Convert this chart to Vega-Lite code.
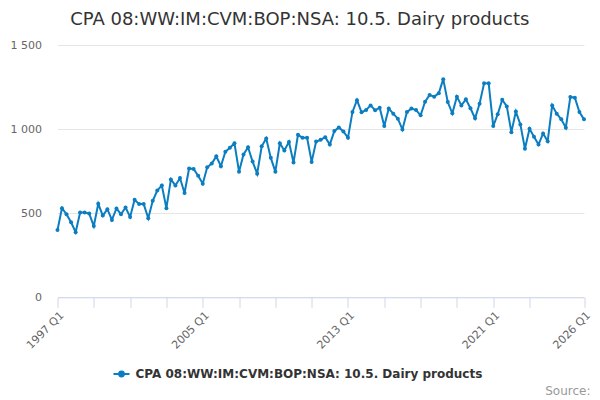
{
  "$schema": "https://vega.github.io/schema/vega-lite/v6.json",
  "description": "CPA 08 imports, dairy products, quarterly",
  "width": 526.5,
  "height": 252.3,
  "autosize": "none",
  "padding": {"left": 57.5, "top": 45, "right": 16, "bottom": 102.7},
  "background": "white",
  "title": {
    "text": "CPA 08:WW:IM:CVM:BOP:NSA: 10.5. Dairy products",
    "fontSize": 18,
    "fontWeight": "normal",
    "color": "#333333",
    "font": "DejaVu Sans",
    "anchor": "middle",
    "dx": -21,
    "offset": 10
  },
  "data": {
    "values": [
      {"date": "1997-01-01", "value": 400},
      {"date": "1997-04-01", "value": 530},
      {"date": "1997-07-01", "value": 494},
      {"date": "1997-10-01", "value": 446},
      {"date": "1998-01-01", "value": 387},
      {"date": "1998-04-01", "value": 504},
      {"date": "1998-07-01", "value": 504},
      {"date": "1998-10-01", "value": 498},
      {"date": "1999-01-01", "value": 424},
      {"date": "1999-04-01", "value": 556},
      {"date": "1999-07-01", "value": 486},
      {"date": "1999-10-01", "value": 524},
      {"date": "2000-01-01", "value": 460},
      {"date": "2000-04-01", "value": 528},
      {"date": "2000-07-01", "value": 494},
      {"date": "2000-10-01", "value": 534},
      {"date": "2001-01-01", "value": 478},
      {"date": "2001-04-01", "value": 580},
      {"date": "2001-07-01", "value": 554},
      {"date": "2001-10-01", "value": 554},
      {"date": "2002-01-01", "value": 470},
      {"date": "2002-04-01", "value": 574},
      {"date": "2002-07-01", "value": 635},
      {"date": "2002-10-01", "value": 665},
      {"date": "2003-01-01", "value": 530},
      {"date": "2003-04-01", "value": 701},
      {"date": "2003-07-01", "value": 665},
      {"date": "2003-10-01", "value": 709},
      {"date": "2004-01-01", "value": 620},
      {"date": "2004-04-01", "value": 766},
      {"date": "2004-07-01", "value": 763},
      {"date": "2004-10-01", "value": 723},
      {"date": "2005-01-01", "value": 675},
      {"date": "2005-04-01", "value": 773},
      {"date": "2005-07-01", "value": 795},
      {"date": "2005-10-01", "value": 838},
      {"date": "2006-01-01", "value": 779},
      {"date": "2006-04-01", "value": 865},
      {"date": "2006-07-01", "value": 889},
      {"date": "2006-10-01", "value": 916},
      {"date": "2007-01-01", "value": 747},
      {"date": "2007-04-01", "value": 849},
      {"date": "2007-07-01", "value": 892},
      {"date": "2007-10-01", "value": 807},
      {"date": "2008-01-01", "value": 735},
      {"date": "2008-04-01", "value": 898},
      {"date": "2008-07-01", "value": 944},
      {"date": "2008-10-01", "value": 829},
      {"date": "2009-01-01", "value": 747},
      {"date": "2009-04-01", "value": 916},
      {"date": "2009-07-01", "value": 873},
      {"date": "2009-10-01", "value": 924},
      {"date": "2010-01-01", "value": 801},
      {"date": "2010-04-01", "value": 966},
      {"date": "2010-07-01", "value": 948},
      {"date": "2010-10-01", "value": 948},
      {"date": "2011-01-01", "value": 805},
      {"date": "2011-04-01", "value": 926},
      {"date": "2011-07-01", "value": 936},
      {"date": "2011-10-01", "value": 952},
      {"date": "2012-01-01", "value": 908},
      {"date": "2012-04-01", "value": 988},
      {"date": "2012-07-01", "value": 1010},
      {"date": "2012-10-01", "value": 986},
      {"date": "2013-01-01", "value": 948},
      {"date": "2013-04-01", "value": 1102},
      {"date": "2013-07-01", "value": 1172},
      {"date": "2013-10-01", "value": 1100},
      {"date": "2014-01-01", "value": 1114},
      {"date": "2014-04-01", "value": 1141},
      {"date": "2014-07-01", "value": 1112},
      {"date": "2014-10-01", "value": 1127},
      {"date": "2015-01-01", "value": 1018},
      {"date": "2015-04-01", "value": 1122},
      {"date": "2015-07-01", "value": 1092},
      {"date": "2015-10-01", "value": 1062},
      {"date": "2016-01-01", "value": 998},
      {"date": "2016-04-01", "value": 1101},
      {"date": "2016-07-01", "value": 1122},
      {"date": "2016-10-01", "value": 1113},
      {"date": "2017-01-01", "value": 1082},
      {"date": "2017-04-01", "value": 1163},
      {"date": "2017-07-01", "value": 1203},
      {"date": "2017-10-01", "value": 1193},
      {"date": "2018-01-01", "value": 1213},
      {"date": "2018-04-01", "value": 1297},
      {"date": "2018-07-01", "value": 1161},
      {"date": "2018-10-01", "value": 1094},
      {"date": "2019-01-01", "value": 1193},
      {"date": "2019-04-01", "value": 1141},
      {"date": "2019-07-01", "value": 1177},
      {"date": "2019-10-01", "value": 1124},
      {"date": "2020-01-01", "value": 1064},
      {"date": "2020-04-01", "value": 1151},
      {"date": "2020-07-01", "value": 1272},
      {"date": "2020-10-01", "value": 1273},
      {"date": "2021-01-01", "value": 1018},
      {"date": "2021-04-01", "value": 1088},
      {"date": "2021-07-01", "value": 1175},
      {"date": "2021-10-01", "value": 1135},
      {"date": "2022-01-01", "value": 982},
      {"date": "2022-04-01", "value": 1104},
      {"date": "2022-07-01", "value": 1028},
      {"date": "2022-10-01", "value": 883},
      {"date": "2023-01-01", "value": 1002},
      {"date": "2023-04-01", "value": 954},
      {"date": "2023-07-01", "value": 908},
      {"date": "2023-10-01", "value": 974},
      {"date": "2024-01-01", "value": 928},
      {"date": "2024-04-01", "value": 1141},
      {"date": "2024-07-01", "value": 1092},
      {"date": "2024-10-01", "value": 1058},
      {"date": "2025-01-01", "value": 1008},
      {"date": "2025-04-01", "value": 1191},
      {"date": "2025-07-01", "value": 1187},
      {"date": "2025-10-01", "value": 1101},
      {"date": "2026-01-01", "value": 1058}
    ]
  },
  "mark": {
    "type": "line",
    "strokeWidth": 2,
    "point": {"filled": true, "size": 16}
  },
  "encoding": {
    "x": {
      "field": "date",
      "type": "temporal",
      "scale": {
        "type": "utc",
        "domain": [
          {"year": 1997, "month": 1, "date": 1, "utc": true},
          {"year": 2026, "month": 1, "date": 1, "utc": true}
        ]
      },
      "axis": {
        "title": "Source:",
        "titleAnchor": "end",
        "titleAlign": "right",
        "titleBaseline": "alphabetic",
        "titleX": 532.5,
        "titleY": 97,
        "titleFontSize": 12,
        "titleFontWeight": "normal",
        "titleColor": "#999999",
        "values": [
          {"year": 1997, "month": 1, "date": 1, "utc": true},
          {"year": 1999, "month": 1, "date": 1, "utc": true},
          {"year": 2001, "month": 1, "date": 1, "utc": true},
          {"year": 2003, "month": 1, "date": 1, "utc": true},
          {"year": 2005, "month": 1, "date": 1, "utc": true},
          {"year": 2007, "month": 1, "date": 1, "utc": true},
          {"year": 2009, "month": 1, "date": 1, "utc": true},
          {"year": 2011, "month": 1, "date": 1, "utc": true},
          {"year": 2013, "month": 1, "date": 1, "utc": true},
          {"year": 2015, "month": 1, "date": 1, "utc": true},
          {"year": 2017, "month": 1, "date": 1, "utc": true},
          {"year": 2019, "month": 1, "date": 1, "utc": true},
          {"year": 2021, "month": 1, "date": 1, "utc": true},
          {"year": 2023, "month": 1, "date": 1, "utc": true},
          {"year": 2026, "month": 1, "date": 1, "utc": true}
        ],
        "labelExpr": "indexof([1997, 2005, 2013, 2021, 2026], utcyear(datum.value)) >= 0 ? utcFormat(datum.value, '%Y') + ' Q1' : ''",
        "labelAngle": -45,
        "labelAlign": "right",
        "labelBaseline": "top",
        "labelPadding": 2,
        "labelFontSize": 11,
        "labelColor": "#666666",
        "labelOverlap": false,
        "labelFlush": false,
        "grid": false,
        "domainColor": "#ccd6eb",
        "tickColor": "#ccd6eb",
        "tickSize": 10
      }
    },
    "y": {
      "field": "value",
      "type": "quantitative",
      "scale": {"domain": [0, 1500], "nice": false},
      "axis": {
        "title": null,
        "values": [0, 500, 1000, 1500],
        "labelExpr": "replace(format(datum.value, ','), ',', ' ')",
        "labelFontSize": 11,
        "labelColor": "#666666",
        "labelPadding": 16,
        "domain": false,
        "ticks": false,
        "gridColor": "#e6e6e6"
      }
    },
    "color": {
      "datum": "CPA 08:WW:IM:CVM:BOP:NSA: 10.5. Dairy products",
      "scale": {"range": ["#0b7dc1"]},
      "legend": {
        "title": null,
        "orient": "none",
        "legendX": 55,
        "legendY": 320,
        "symbolType": "M-1,0L1,0M-0.3,0A0.3,0.3,0,1,1,0.3,0A0.3,0.3,0,1,1,-0.3,0Z",
        "symbolSize": 256,
        "symbolStrokeWidth": 2,
        "labelFontSize": 12,
        "labelFontWeight": "bold",
        "labelColor": "#333333",
        "labelLimit": 600,
        "labelOffset": 5,
        "encode": {
          "symbols": {
            "update": {
              "fill": {"value": "#0b7dc1"},
              "stroke": {"value": "#0b7dc1"}
            }
          }
        }
      }
    }
  },
  "config": {
    "font": "DejaVu Sans",
    "view": {"stroke": null}
  }
}
